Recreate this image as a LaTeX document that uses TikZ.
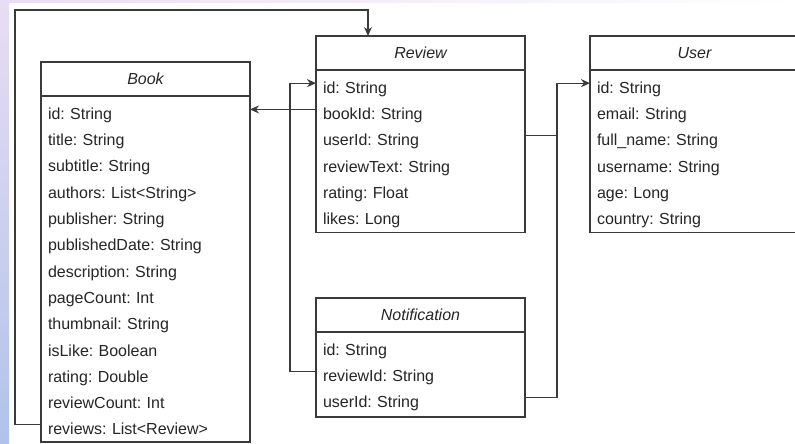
\documentclass[tikz,border=0pt]{standalone}
\usepackage{fontspec}
\setmainfont{Liberation Sans}
\usetikzlibrary{arrows.meta, positioning, calc}
\frenchspacing

\definecolor{umlline}{HTML}{3A3A3A}
\definecolor{umltext}{HTML}{262626}
\definecolor{edgetop}{HTML}{E9DDF3}
\definecolor{edgebot}{HTML}{AFC3EA}

\begin{document}
\begin{tikzpicture}[
    classhead/.style={rectangle, draw=umlline, line width=1.2pt, minimum width=209pt, minimum height=34pt, inner sep=0pt, outer sep=0pt, font=\fontsize{16}{19}\selectfont\itshape, text=umltext},
    row/.style={rectangle, minimum width=209pt, text width=195pt, inner xsep=7pt, inner ysep=0pt, outer sep=0pt, text height=23.3pt, text depth=3pt, align=left, font=\fontsize{16}{19}\selectfont, text=umltext},
    classbox/.style={draw=umlline, line width=1.2pt},
    link/.style={draw=umlline, line width=1.2pt, -{Stealth[length=9pt, width=8pt]}},
    plain/.style={draw=umlline, line width=1.2pt}
]

% Page and left border
\clip (0,0) rectangle (795pt,-444pt);
\fill[white] (0,0) rectangle (795pt,-444pt);
\shade[top color=edgetop, bottom color=edgebot] (0,0) rectangle (9pt,-444pt);
\shade[left color=edgetop, right color=white] (0,0) rectangle (795pt,-3pt);

% Book
\node[classhead] (book) at (145.5pt,-79pt) {Book};
\node[row, below=0pt of book] (bookid) {id: String};
\node[row, below=0pt of bookid] (booktitle) {title: String};
\node[row, below=0pt of booktitle] (booksubtitle) {subtitle: String};
\node[row, below=0pt of booksubtitle] (bookauthors) {authors: List<String>};
\node[row, below=0pt of bookauthors] (bookpublisher) {publisher: String};
\node[row, below=0pt of bookpublisher] (bookdate) {publishedDate: String};
\node[row, below=0pt of bookdate] (bookdesc) {description: String};
\node[row, below=0pt of bookdesc] (bookpages) {pageCount: Int};
\node[row, below=0pt of bookpages] (bookthumb) {thumbnail: String};
\node[row, below=0pt of bookthumb] (booklike) {isLike: Boolean};
\node[row, below=0pt of booklike] (bookrating) {rating: Double};
\node[row, below=0pt of bookrating] (bookcount) {reviewCount: Int};
\node[row, below=0pt of bookcount] (bookreviews) {reviews: List<Review>};
\draw[classbox] (book.north west) rectangle ([yshift=-4pt]bookreviews.south east);

% Review
\node[classhead, right=66pt of book, yshift=26pt] (review) {Review};
\node[row, below=0pt of review] (reviewid) {id: String};
\node[row, below=0pt of reviewid] (reviewbook) {bookId: String};
\node[row, below=0pt of reviewbook] (reviewuser) {userId: String};
\node[row, below=0pt of reviewuser] (reviewtext) {reviewText: String};
\node[row, below=0pt of reviewtext] (reviewrating) {rating: Float};
\node[row, below=0pt of reviewrating] (reviewlikes) {likes: Long};
\draw[classbox] (review.north west) rectangle ([yshift=-5pt]reviewlikes.south east);

% User
\node[classhead, right=65pt of review] (user) {User};
\node[row, below=0pt of user] (userid) {id: String};
\node[row, below=0pt of userid] (useremail) {email: String};
\node[row, below=0pt of useremail] (username) {full\_name: String};
\node[row, below=0pt of username] (userlogin) {username: String};
\node[row, below=0pt of userlogin] (userage) {age: Long};
\node[row, below=0pt of userage] (usercountry) {country: String};
\draw[classbox] (user.north west) rectangle ([yshift=-5pt]usercountry.south east);

% Notification
\node[classhead, below=228pt of review] (notif) {Notification};
\node[row, below=0pt of notif] (notifid) {id: String};
\node[row, below=0pt of notifid] (notifreview) {reviewId: String};
\node[row, below=0pt of notifreview] (notifuser) {userId: String};
\draw[classbox] (notif.north west) rectangle ([yshift=-6pt]notifuser.south east);

% Joints
\coordinate (reviewtop) at ([xshift=52pt]review.north west);
\coordinate (userjoint) at ([xshift=32pt]reviewuser.east);

% Arrows
\draw[link] (bookreviews.west) -- ++(-26pt,0) |- ([yshift=26pt]reviewtop) -- (reviewtop);
\draw[link] (reviewbook.west) -- (reviewbook.west -| book.east);
\draw[link] (notifreview.west) -- ++(-26pt,0) |- (reviewid.west);
\draw[link] (reviewuser.east) -- (userjoint) |- (userid.west);
\draw[plain] (notifuser.east) -| (userjoint);

\end{tikzpicture}
\end{document}
